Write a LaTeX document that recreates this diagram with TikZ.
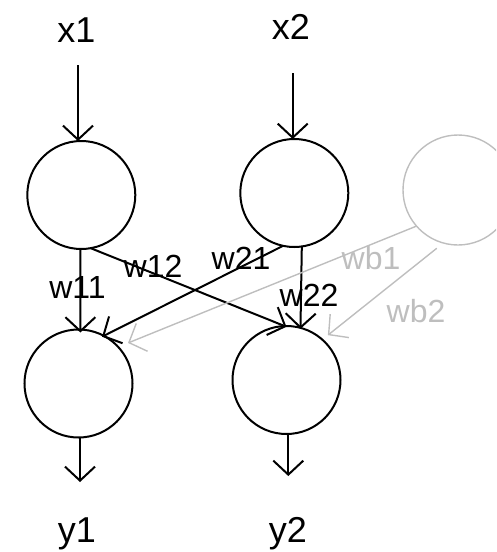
\documentclass[tikz,border=0pt]{standalone}
\usepackage{fontspec}
\setmainfont{Liberation Sans}
\usetikzlibrary{arrows.meta,calc}
\definecolor{biasgray}{RGB}{190,190,190}
\begin{document}
\begin{tikzpicture}[x=1pt,y=-1pt,
  neuron/.style={circle,draw=black,line width=2pt,minimum size=108pt,inner sep=0pt,outer sep=0pt},
  biasneuron/.style={neuron,draw=biasgray,line width=1.4pt,minimum size=110pt},
  conn/.style={line width=2pt,-{Straight Barb[length=14pt,width=30pt]}},
  bconn/.style={conn,draw=biasgray,line width=1.4pt},
  io/.style={font=\fontsize{36}{40}\selectfont,anchor=base,inner sep=0pt},
  wlab/.style={font=\fontsize{32}{36}\selectfont,anchor=base,inner sep=0pt},
  blab/.style={wlab,text=biasgray}]
\useasboundingbox (0,0) rectangle (496,552);
\clip (0,0) rectangle (496,552);
% neurons
\node[neuron] (in1) at (81.3,195) {};
\node[neuron] (in2) at (294.3,193) {};
\node[biasneuron] (bias) at (458,190) {};
\node[neuron] (out1) at (78.5,383.5) {};
\node[neuron] (out2) at (286.5,380) {};
% input / output labels
\node[io] (lx1) at (76.5,42) {x1};
\node[io] (lx2) at (291,39.5) {x2};
\node[io] (ly1) at (77,542) {y1};
\node[io] (ly2) at (288,542) {y2};
% free ends
\coordinate (x1s) at (78,65);
\coordinate (x2s) at (292.7,73);
\coordinate (y1e) at (80,482);
\coordinate (y2e) at (288.3,476);
% input and output arrows
\draw[conn] (x1s) -- (x1s |- in1.north);
\draw[conn] (x2s) -- (x2s |- in2.north);
\draw[conn] (out1.south -| y1e) -- (y1e);
\draw[conn] (out2.south -| y2e) -- (y2e);
% weights
\draw[conn,shorten >=-3pt] (in1.-91.4) -- (out1.88.4);
\draw[conn,shorten >=-2pt] (in1.-80.5) -- (out2.92);
\draw[conn,shorten >=-2pt] (in2.-102) -- (out1.62);
\draw[conn,shorten >=-1pt] (in2.-82) -- (out2.75);
% bias
\draw[bconn] (bias.-139) -- ($(out1)+(39.3:64pt)$);
\draw[bconn] ($(bias)+(-110:62pt)$) -- ($(out2)+(47.3:61pt)$);
% weight labels
\node[wlab] (lw11) at (77.5,298) {w11};
\node[wlab] (lw12) at (153,277) {w12};
\node[wlab] (lw21) at (241,269) {w21};
\node[wlab] (lw22) at (309,306) {w22};
\node[blab] (lwb1) at (371,269) {wb1};
\node[blab] (lwb2) at (416,322) {wb2};
\end{tikzpicture}
\end{document}
